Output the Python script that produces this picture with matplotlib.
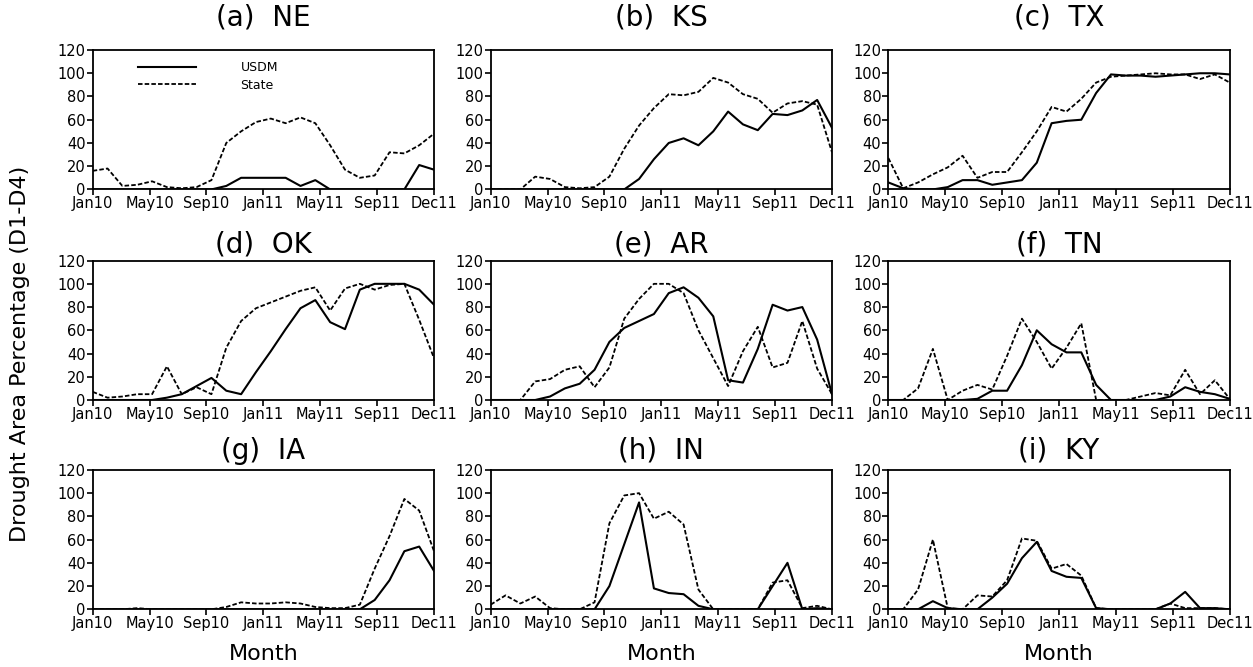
import numpy as np
import matplotlib
matplotlib.use("Agg")
import matplotlib.pyplot as plt

# monthly values Jan2010 .. Dec2011 (24 months)
tick_labels = ["Jan10", "May10", "Sep10", "Jan11", "May11", "Sep11", "Dec11"]
titles = ["(a)  NE", "(b)  KS", "(c)  TX", "(d)  OK", "(e)  AR", "(f)  TN",
          "(g)  IA", "(h)  IN", "(i)  KY"]

ne_usdm = [0, 0, 0, 0, 0, 0, 0, 0, 0, 3, 10, 10, 10, 10, 3, 8, 0, 0, 0, 0, 0, 0, 21, 17]
ne_state = [16, 18, 3, 4, 7, 2, 1, 2, 8, 40, 50, 58, 61, 57, 62, 57, 38, 17, 10, 12, 32, 31, 38, 48]

ks_usdm = [0, 0, 0, 0, 0, 0, 0, 0, 0, 0, 9, 26, 40, 44, 38, 50, 67, 56, 51, 65, 64, 68, 77, 53]
ks_state = [0, 0, 0, 11, 9, 2, 1, 2, 11, 35, 55, 70, 82, 81, 84, 96, 92, 82, 78, 66, 74, 76, 73, 32]

tx_usdm = [6, 1, 0, 0, 2, 8, 8, 4, 6, 8, 23, 57, 59, 60, 83, 99, 98, 98, 97, 98, 99, 100, 100, 99]
tx_state = [27, 1, 6, 13, 19, 29, 10, 15, 15, 32, 50, 71, 67, 78, 92, 97, 98, 99, 100, 99, 99, 95, 99, 92]

ok_usdm = [0, 0, 0, 0, 0, 2, 5, 12, 19, 8, 5, 24, 42, 61, 79, 86, 67, 61, 95, 100, 100, 100, 95, 82]
ok_state = [7, 2, 3, 5, 5, 29, 5, 11, 5, 45, 68, 79, 84, 89, 94, 97, 77, 96, 100, 95, 99, 100, 69, 36]

ar_usdm = [0, 0, 0, 0, 3, 10, 14, 26, 50, 62, 68, 74, 92, 97, 88, 72, 17, 15, 44, 82, 77, 80, 52, 5]
ar_state = [0, 0, 0, 16, 18, 26, 29, 11, 28, 70, 87, 100, 100, 92, 60, 36, 12, 42, 63, 28, 32, 68, 27, 5]

tn_usdm = [0, 0, 0, 0, 0, 0, 1, 8, 8, 30, 60, 48, 41, 41, 13, 0, 0, 0, 0, 3, 11, 7, 5, 1]
tn_state = [0, 0, 10, 44, 0, 8, 13, 9, 38, 70, 50, 27, 45, 66, 0, 0, 0, 3, 6, 4, 26, 5, 17, 1]

ia_usdm = [0, 0, 0, 0, 0, 0, 0, 0, 0, 0, 0, 0, 0, 0, 0, 0, 0, 0, 0, 8, 25, 50, 54, 33]
ia_state = [0, 0, 0, 1, 0, 0, 0, 0, 0, 2, 6, 5, 5, 6, 5, 2, 1, 1, 4, 35, 63, 95, 85, 50]

in_usdm = [0, 0, 0, 0, 0, 0, 0, 0, 20, 56, 92, 18, 14, 13, 3, 0, 0, 0, 0, 20, 40, 0, 1, 0]
in_state = [4, 12, 5, 11, 1, 0, 0, 6, 74, 98, 100, 78, 84, 73, 17, 0, 0, 0, 0, 23, 25, 1, 3, 0]

ky_usdm = [0, 0, 0, 7, 1, 0, 0, 10, 22, 44, 58, 33, 28, 27, 1, 0, 0, 0, 0, 5, 15, 1, 1, 0]
ky_state = [0, 0, 17, 60, 1, 0, 12, 11, 25, 61, 59, 35, 39, 29, 1, 0, 0, 0, 0, 5, 1, 1, 1, 0]

usdm = [ne_usdm, ks_usdm, tx_usdm, ok_usdm, ar_usdm, tn_usdm, ia_usdm, in_usdm, ky_usdm]
state = [ne_state, ks_state, tx_state, ok_state, ar_state, tn_state, ia_state, in_state, ky_state]

months = np.arange(24)

fig = plt.figure(figsize=(12.53, 6.67), dpi=100)

lefts = [0.074, 0.3916, 0.709]
bottoms = [0.716, 0.4003, 0.0865]
title_pad = [18, 6, 8]
w, h = 0.2724, 0.209

for n in range(9):
    r, c = n // 3, n % 3
    ax = fig.add_axes([lefts[c], bottoms[r], w, h])
    ax.plot(months, usdm[n], color="black", lw=1.5, label="USDM")
    ax.plot(months, state[n], color="black", lw=1.3, dashes=(2.5, 1.2), label="State")
    ax.set_xlim(0, 23)
    ax.set_ylim(0, 120)
    ax.set_yticks(np.arange(0, 121, 20))
    ax.set_xticks(np.linspace(0, 23, 7))
    ax.set_xticklabels(tick_labels)
    ax.tick_params(labelsize=10.5, length=4, width=1.2, direction="out",
                   colors="black", pad=1)
    for s in ax.spines.values():
        s.set_linewidth(1.3)
    ax.set_title(titles[n], fontsize=20, pad=title_pad[r])
    if r == 2:
        ax.set_xlabel("Month", fontsize=16, labelpad=9)
    if n == 0:
        ax.legend(loc="upper left", bbox_to_anchor=(0.1, 0.999), frameon=False,
                  handlelength=4.6, handletextpad=3.6, labelspacing=0.35,
                  fontsize=9)

fig.text(0.016, 0.47, "Drought Area Percentage (D1-D4)", rotation=90,
         fontsize=16, ha="center", va="center")

fig.savefig("out.png", dpi=100)
